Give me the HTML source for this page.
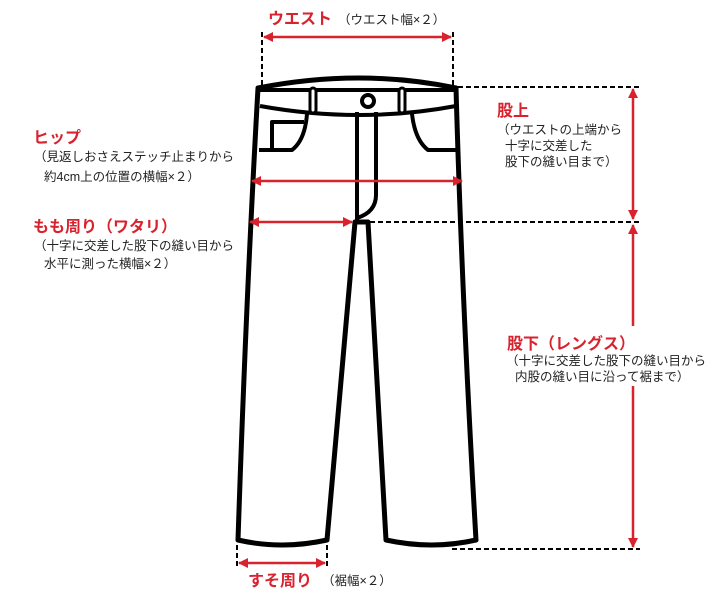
<!DOCTYPE html><html><head><meta charset="utf-8"><style>body{margin:0;background:#fff}svg{display:block}
.r{fill:#d8232f;font-family:"Liberation Sans","Noto Sans CJK JP",sans-serif;font-size:16px;font-weight:bold}
.k{fill:#222;font-family:"Liberation Sans","Noto Sans CJK JP",sans-serif;font-size:12.5px}</style></head><body>
<svg width="713" height="602" viewBox="0 0 713 602">
<defs><marker id="a" viewBox="0 0 10 10" refX="9" refY="5" markerWidth="4" markerHeight="4" orient="auto-start-reverse"><path d="M0,0L10,5L0,10z" fill="#d8232f"/></marker></defs>
<g fill="none" stroke="#000" stroke-width="5" stroke-linejoin="round">
<path d="M258,88 Q360,68 456,88 Q462,300 476,540 Q432,550 386,540 L368,222 L355,222 L327,540 Q282,550 238,540 Q246,300 258,88 Z" fill="#fff"/>
<path d="M258,90 L458,90" stroke-width="4"/>
<path d="M260,106 Q360,124 456,106" stroke-width="4"/>
<rect x="310" y="88" width="6" height="25" rx="3" fill="#fff" stroke-width="3"/>
<rect x="399" y="88" width="6" height="25" rx="3" fill="#fff" stroke-width="3"/>
<path d="M259,150 L292,150 Q305,140 307,114" stroke-width="4"/>
<path d="M272,150 L272,122 L304,122" stroke-width="4"/>
<path d="M458,150 L428,150 Q415,140 412,114" stroke-width="4"/>
<path d="M357,112 L357,222 M357,218 Q376,212 376,195 L376,112" stroke-width="4"/>
<circle cx="368" cy="101" r="6" stroke-width="4" fill="#fff"/>
</g>
<g stroke="#000" stroke-width="2" stroke-dasharray="5,3" fill="none">
<path d="M262,32V86M453,32V86M458,87H640M362,222H640M452,549H640M237,545V568M327,545V568"/>
</g>
<g stroke="#d8232f" stroke-width="2.5" marker-start="url(#a)" marker-end="url(#a)">
<line x1="264" y1="37" x2="451" y2="37"/>
<line x1="252" y1="181" x2="462" y2="181"/>
<line x1="250" y1="222" x2="352" y2="222"/>
<line x1="239" y1="563" x2="325" y2="563"/>
<line x1="633" y1="89" x2="633" y2="219"/>
</g>
<line x1="633" y1="225" x2="633" y2="326" stroke="#d8232f" stroke-width="2.5" marker-start="url(#a)"/>
<line x1="633" y1="386" x2="633" y2="547" stroke="#d8232f" stroke-width="2.5" marker-end="url(#a)"/>
<text class="r" x="268" y="24">ウエスト</text><text class="k" x="338" y="24">（ウエスト幅×２）</text>
<text class="r" x="33" y="143">ヒップ</text>
<text class="k" x="34" y="161">（見返しおさえステッチ止まりから</text>
<text class="k" x="44" y="181">約4cm上の位置の横幅×２）</text>
<text class="r" x="33" y="232">もも周り（ワタリ）</text>
<text class="k" x="34" y="250">（十字に交差した股下の縫い目から</text>
<text class="k" x="44" y="268">水平に測った横幅×２）</text>
<text class="r" x="497" y="116">股上</text>
<text class="k" x="497" y="134">（ウエストの上端から</text>
<text class="k" x="505" y="150">十字に交差した</text>
<text class="k" x="505" y="166">股下の縫い目まで）</text>
<text class="r" x="507" y="349">股下（レングス）</text>
<text class="k" x="506" y="365">（十字に交差した股下の縫い目から</text>
<text class="k" x="515" y="381">内股の縫い目に沿って裾まで）</text>
<text class="r" x="248" y="586">すそ周り</text><text class="k" x="322" y="585">（裾幅×２）</text>
</svg></body></html>
